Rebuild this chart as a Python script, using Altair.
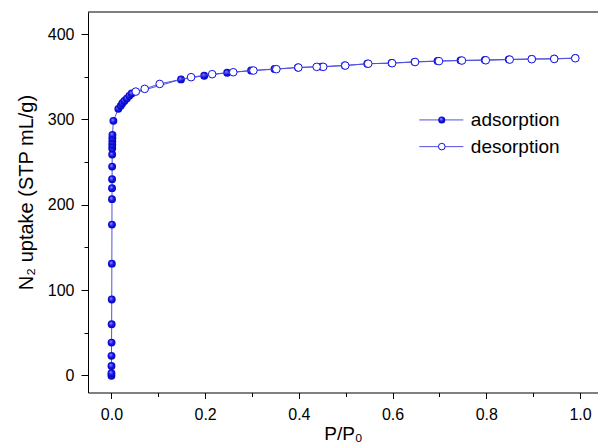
import altair as alt
import pandas as pd

# ---- data ----
ads_x = [0.00001, 0.00003, 0.00008, 0.00015, 0.0003, 0.0005, 0.0007, 0.0009, 0.0011,
         0.0012, 0.0013, 0.0014, 0.0015, 0.0016, 0.0017, 0.0018, 0.0019, 0.0020, 0.0022,
         0.0042,
         0.0147, 0.0198, 0.0233, 0.0276, 0.0327, 0.0382, 0.0433,
         0.1485, 0.198, 0.247, 0.298, 0.348, 0.398, 0.448, 0.498, 0.546, 0.598,
         0.647, 0.696, 0.745, 0.797, 0.848, 0.897, 0.945, 0.990]
ads_y = [-0.5, 2.6, 11, 23, 38.5, 60, 89, 131, 176.8,
         206.6, 219.5, 230, 244.8, 258.9, 266, 270, 274, 278, 282,
         298.4,
         312.5, 316, 319, 321.8, 324.5, 327.7, 330.4,
         347.0, 351.3, 354.8, 357.4, 359.2, 361.0, 362.0, 363.4, 365.3, 366.2,
         367.6, 368.6, 369.3, 369.8, 370.5, 371.0, 371.3, 372.0]

des_x = [0.990, 0.945, 0.897, 0.850, 0.799, 0.748, 0.699, 0.648, 0.599, 0.548,
         0.499, 0.452, 0.438, 0.399, 0.352, 0.303, 0.260, 0.215, 0.170, 0.103,
         0.071, 0.052]
des_y = [371.8, 371.0, 370.7, 370.2, 369.4, 369.1, 368.4, 367.4, 366.0, 365.4,
         363.2, 361.7, 361.7, 360.9, 359.0, 357.4, 355.4, 353.1, 349.6, 341.7,
         335.9, 332.7]

legend_labels = ["adsorption", "desorption"]

BLUE = "#1010e8"
LINE = "#5252dc"
FONT = "Liberation Sans"

ads = pd.DataFrame({"x": ads_x, "y": ads_y, "i": range(len(ads_x))})
des = pd.DataFrame({"x": des_x, "y": des_y, "i": range(len(des_x))})

W, H = 510, 380.5

xaxis = alt.Axis(
    values=[round(0.1 * k, 1) for k in range(11)],
    labelExpr="round(datum.value*10) % 2 === 0 ? format(datum.value, '.1f') : ''",
    tickSize={"condition": {"test": "round(datum.value*10) % 2 === 0", "value": 6}, "value": 4},
    grid=False, domainColor="black", tickColor="black", domainWidth=1, tickWidth=1,
    labelFont=FONT, labelFontSize=16, labelColor="black", labelPadding=8, labelFlush=False,
    title="P/P₀", titleFont=FONT, titleFontSize=19, titleFontWeight="normal", titleColor="black",
    titleBaseline="alphabetic", titleY=47,
)
yaxis = alt.Axis(
    values=list(range(0, 401, 50)),
    labelExpr="datum.value % 100 === 0 ? datum.label : ''",
    tickSize={"condition": {"test": "datum.value % 100 === 0", "value": 7}, "value": 4},
    grid=False, domainColor="black", tickColor="black", domainWidth=1, tickWidth=1,
    labelFont=FONT, labelFontSize=16, labelColor="black", labelPadding=7,
    title="N₂ uptake (STP mL/g)", titleFont=FONT, titleFontSize=20, titleFontWeight="normal",
    titleColor="black", titleBaseline="alphabetic", titleX=-56, titleY=180, titleAlign="center",
)

X = alt.X("x:Q", scale=alt.Scale(domain=[-0.05, 1.0384], nice=False, zero=False), axis=xaxis)
Y = alt.Y("y:Q", scale=alt.Scale(domain=[-20, 426], nice=False, zero=False), axis=yaxis)

grad = {"gradient": "radial", "x1": 0.38, "y1": 0.35, "r1": 0.0,
        "x2": 0.5, "y2": 0.5, "r2": 0.55,
        "stops": [{"offset": 0.0, "color": "#a8a8ff"},
                  {"offset": 0.45, "color": "#1a1aee"},
                  {"offset": 1.0, "color": "#0000b8"}]}

frame_top = alt.Chart(pd.DataFrame({"a": [0]})).mark_rule(color="black", strokeWidth=1).encode(
    x=alt.value(0), x2=alt.value(W), y=alt.value(0))

ads_line = alt.Chart(ads).mark_line(color=LINE, strokeWidth=1).encode(x=X, y=Y, order="i:Q")
ads_pts = alt.Chart(ads).mark_point(shape="circle", filled=True, fill=grad, opacity=1,
                                    size=62, strokeWidth=0).encode(x=X, y=Y)
des_line = alt.Chart(des).mark_line(color=LINE, strokeWidth=1).encode(x=X, y=Y, order="i:Q")
des_pts = alt.Chart(des).mark_point(shape="circle", filled=False, fill="white", fillOpacity=1,
                                    stroke=BLUE, strokeWidth=1, opacity=1, size=58).encode(x=X, y=Y)

# legend drawn through the same scales
leg_y = [299.5, 268.2]
leg_line_df = pd.DataFrame({"x": [0.657, 0.751, 0.657, 0.751],
                            "y": [leg_y[0], leg_y[0], leg_y[1], leg_y[1]],
                            "s": [legend_labels[0]] * 2 + [legend_labels[1]] * 2})
leg_lines = alt.Chart(leg_line_df).mark_line(color=LINE, strokeWidth=1).encode(
    x=X, y=Y, detail="s:N")
leg_p1 = alt.Chart(pd.DataFrame({"x": [0.705], "y": [leg_y[0]]})).mark_point(
    shape="circle", filled=True, fill=grad, opacity=1, size=50, strokeWidth=0).encode(x=X, y=Y)
leg_p2 = alt.Chart(pd.DataFrame({"x": [0.705], "y": [leg_y[1]]})).mark_point(
    shape="circle", filled=False, fill="white", fillOpacity=1, stroke=BLUE, strokeWidth=1,
    opacity=1, size=44).encode(x=X, y=Y)
leg_text = alt.Chart(pd.DataFrame({"x": [0.767, 0.767], "y": leg_y, "t": legend_labels})).mark_text(
    align="left", baseline="middle", font=FONT, fontSize=19, color="black").encode(
    x=X, y=Y, text="t:N")

chart = alt.layer(
    frame_top, ads_line, ads_pts, des_line, des_pts, leg_lines, leg_p1, leg_p2, leg_text
).properties(
    width=W, height=H,
    autosize=alt.AutoSizeParams(type="none"),
    padding={"left": 88, "top": 12, "right": 0, "bottom": 52},
    background="white",
).configure_view(stroke=None)

chart.save("out.html", embed_options={"renderer": "svg", "actions": False})
